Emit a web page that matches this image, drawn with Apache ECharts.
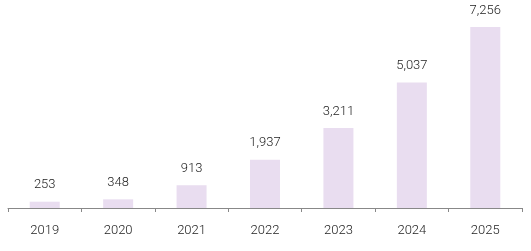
<!DOCTYPE html>
<html><head><meta charset="utf-8">
<script src="https://cdn.jsdelivr.net/npm/echarts@6/dist/echarts.min.js"></script>
<style>html,body{margin:0;padding:0;background:#fff}#c{width:531px;height:251px}</style>
</head><body><div id="c"></div>
<script>
const categories = ['2019','2020','2021','2022','2023','2024','2025'];
const values = [253, 348, 913, 1937, 3211, 5037, 7256];
const chart = echarts.init(document.getElementById('c'), null, {renderer:'canvas'});
chart.setOption({
  animation:false,
  grid:{left:8,right:9,top:21,bottom:43,containLabel:false},
  xAxis:{type:'category',data:categories,
    axisLine:{lineStyle:{color:'#888',width:1}},
    axisTick:{show:true,length:4,lineStyle:{color:'#888'}},
    axisLabel:{color:'#222',fontSize:13,fontFamily:'Roboto',fontWeight:300,margin:16}},
  yAxis:{type:'value',min:0,max:7500,show:false,splitLine:{show:false}},
  series:[{type:'bar',data:values,barWidth:30,
    itemStyle:{color:'#e9ddf0'},
    label:{show:true,position:'top',distance:10,color:'#222',fontSize:13,fontFamily:'Roboto',fontWeight:300,
      formatter:p=>p.value.toLocaleString('en-US')}}]
});
</script></body></html>
